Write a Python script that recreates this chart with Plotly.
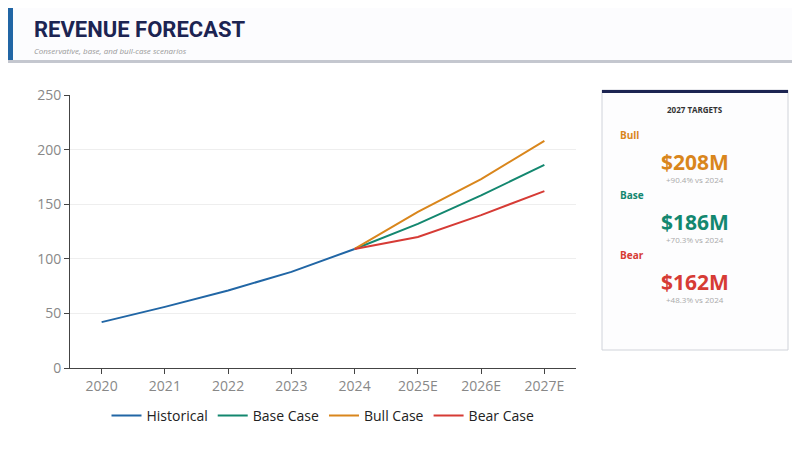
import plotly.graph_objects as go

years = ["2020", "2021", "2022", "2023", "2024", "2025E", "2026E", "2027E"]
historical = [42, 56, 71, 88, 109]
forecast_years = ["2024", "2025E", "2026E", "2027E"]
base_case = [109, 132, 158, 186]
bull_case = [109, 143, 173, 208]
bear_case = [109, 120, 140, 162]

targets = [
    ("Bull", "$208M", "+90.4% vs 2024", "#d9861c"),
    ("Base", "$186M", "+70.3% vs 2024", "#13876f"),
    ("Bear", "$162M", "+48.3% vs 2024", "#d63b35"),
]

fig = go.Figure()
fig.add_trace(go.Scatter(x=years[:5], y=historical, mode="lines", name="Historical",
                         line=dict(color="#2166a5", width=2)))
fig.add_trace(go.Scatter(x=forecast_years, y=base_case, mode="lines", name="Base Case",
                         line=dict(color="#13876f", width=2)))
fig.add_trace(go.Scatter(x=forecast_years, y=bull_case, mode="lines", name="Bull Case",
                         line=dict(color="#d9861c", width=2)))
fig.add_trace(go.Scatter(x=forecast_years, y=bear_case, mode="lines", name="Bear Case",
                         line=dict(color="#d63b35", width=2)))

W, H = 800, 450
L, R, T, B = 62, 232, 87, 90
PW, PH = W - L - R, H - T - B

# pixel -> paper coords (paper is relative to the plot area)
def fx(x):
    return (x - L) / PW

def fy(y):
    return 1 - (y - T) / PH

def px(x0, y0, x1, y1, **kw):
    fig.add_shape(type="rect", xref="paper", yref="paper", x0=fx(x0), x1=fx(x1),
                  y0=fy(y1), y1=fy(y0), layer="below", **kw)

def note(text, x, y, size, color, xanchor="center", **kw):
    fig.add_annotation(text=text, x=fx(x), y=fy(y), xref="paper", yref="paper",
                       xanchor=xanchor, yanchor="middle", showarrow=False,
                       font=dict(size=size, color=color, **kw))

# header
px(0, 0, 800, 52, fillcolor="#fcfcfe", line_width=0)
px(0, 0, 5, 52, fillcolor="#2166a5", line_width=0)
px(0, 52, 800, 55, fillcolor="#c4c7cf", line_width=0)
note("<b>REVENUE FORECAST</b>", 24, 22, 22, "#1c2452", xanchor="left", family="Roboto")
note("<i>Conservative, base, and bull-case scenarios</i>", 24, 43, 8, "#999999", xanchor="left")

# target card
px(594, 82, 780, 342, fillcolor="#fdfdfe", line=dict(color="#d0d3da", width=1))
px(594, 82, 780, 85, fillcolor="#1c2452", line_width=0)
note("<b>2027 TARGETS</b>", 687, 101, 8, "#333333")
for i, (label, value, change, color) in enumerate(targets):
    y0 = 127 + i * 60
    note("<b>%s</b>" % label, 610, y0, 10, color, xanchor="left")
    note("<b>%s</b>" % value, 687, y0 + 27, 21, color)
    note(change, 687, y0 + 44, 8, "#aaaaaa")

fig.update_layout(
    width=W, height=H,
    margin=dict(l=L, r=R, t=T, b=B),
    paper_bgcolor="white", plot_bgcolor="white",
    font=dict(family="Open Sans", color="#888888"),
    showlegend=True,
    legend=dict(orientation="h", x=0.5, xanchor="center", y=fy(392), yanchor="top",
                font=dict(size=14, color="#222222"), itemwidth=30),
    xaxis=dict(showgrid=False, showline=True, linecolor="#444444", ticks="outside",
               tickcolor="#444444", tickfont=dict(size=14, color="#888888"),
               categoryorder="array", categoryarray=years, range=[-0.5, 7.5]),
    yaxis=dict(range=[0, 250], dtick=50, gridcolor="#eeeeee", showline=True, linecolor="#444444",
               ticks="outside", tickcolor="#444444", tickfont=dict(size=14, color="#888888"),
               zeroline=False),
)

fig.write_html("out.html")
